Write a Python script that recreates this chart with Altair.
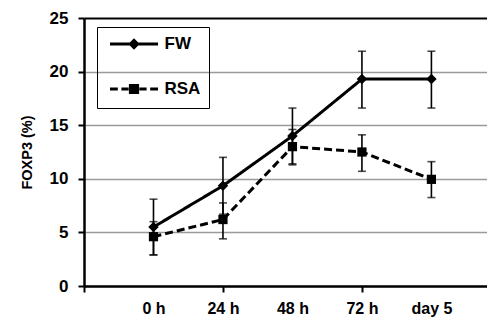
import altair as alt
import pandas as pd

# categories / tick labels
categories = ["0 h", "24 h", "48 h", "72 h", "day 5"]
positions = [0, 1, 2, 3, 4]

# FW series
fw_mean = [5.5, 9.35, 14.0, 19.3, 19.3]
fw_hi = [8.1, 12.0, 16.6, 21.9, 21.9]
fw_lo = [2.9, 6.7, 11.4, 16.6, 16.6]

# RSA series
rsa_mean = [4.6, 6.2, 13.0, 12.5, 9.95]
rsa_hi = [6.0, 7.75, 14.6, 14.1, 11.6]
rsa_lo = [2.9, 4.4, 11.3, 10.7, 8.25]

series_names = ["FW", "RSA"]

rows = []
for i, p in enumerate(positions):
    rows.append({"series": "FW", "s2": "FW", "x": p, "cat": categories[i], "mean": fw_mean[i], "hi": fw_hi[i], "lo": fw_lo[i]})
for i, p in enumerate(positions):
    rows.append({"series": "RSA", "s2": "RSA", "x": p, "cat": categories[i], "mean": rsa_mean[i], "hi": rsa_hi[i], "lo": rsa_lo[i]})
df = pd.DataFrame(rows)

label_js = "[" + ",".join("'" + c + "'" for c in categories) + "]"
Y_TITLE = "FOXP3 (%)"

x_enc = alt.X(
    "x:Q",
    scale=alt.Scale(domain=[-1, 4.8], nice=False, zero=False),
    axis=alt.Axis(
        values=[-1, 0, 1, 2, 3, 4],
        labelExpr=label_js + "[datum.value] || ''",
        title=None,
        grid=False,
        domainColor="black",
        domainWidth=2.5,
        tickSize=6,
        tickWidth=2,
        tickColor={"condition": {"test": "datum.value % 2 == 0", "value": "transparent"}, "value": "black"},
        labelFont="Liberation Sans",
        labelFontWeight="bold",
        labelFontSize=16,
        labelColor="black",
        labelPadding=8,
    ),
)

y_enc = alt.Y(
    "mean:Q",
    title=Y_TITLE,
    scale=alt.Scale(domain=[0, 25], nice=False),
    axis=alt.Axis(
        values=[0, 5, 10, 15, 20, 25],
        titleFont="Liberation Sans",
        titleFontWeight="bold",
        titleFontSize=14.5,
        titleColor="black",
        titlePadding=15,
        grid=True,
        gridColor={"condition": {"test": "datum.value == 25", "value": "black"}, "value": "#9a9a9a"},
        gridWidth={"condition": {"test": "datum.value == 25", "value": 2}, "value": 1.5},
        domainColor="black",
        domainWidth=2.5,
        tickSize=6,
        tickWidth=2,
        tickColor="black",
        labelFont="Liberation Sans",
        labelFontWeight="bold",
        labelFontSize=17,
        labelColor="black",
        labelPadding=10,
    ),
)

base = alt.Chart(df)

errbars = base.mark_errorbar(
    ticks={"size": 8, "thickness": 1.6, "color": "black"},
    rule={"strokeWidth": 1.6, "color": "black"},
).encode(
    x=alt.X("x:Q"),
    y=alt.Y("lo:Q", title=Y_TITLE),
    y2=alt.Y2("hi:Q"),
    detail="series:N",
)

lines = base.mark_line(strokeWidth=3, color="black").encode(
    x=x_enc,
    y=y_enc,
    strokeDash=alt.StrokeDash(
        "series:N",
        scale=alt.Scale(domain=series_names, range=[[1, 0], [8, 4]]),
        legend=None,
    ),
)

fw_pts = base.transform_filter("datum.series == 'FW'").mark_point(
    shape="diamond", filled=True, color="black", size=110, opacity=1
).encode(x="x:Q", y=alt.Y("mean:Q", title=Y_TITLE))

rsa_pts = base.transform_filter("datum.series == 'RSA'").mark_point(
    shape="square", filled=True, color="black", size=85, opacity=1
).encode(x="x:Q", y=alt.Y("mean:Q", title=Y_TITLE))

fw_path = "M-4,0L4,0M-0.6,0L0,-0.6L0.6,0L0,0.6Z"
rsa_path = "M-4,0L-2.7,0M-2.1,0L-0.9,0M0.9,0L2.1,0M2.7,0L4,0M-0.6,-0.6L0.6,-0.6L0.6,0.6L-0.6,0.6Z"

# invisible driver for the legend (marks are clipped away outside the plot)
legend_layer = base.mark_point(
    filled=True, clip=True, opacity=1
).encode(
    x="x:Q",
    y=alt.value(-2000),
    shape=alt.Shape(
        "series:N",
        scale=alt.Scale(domain=series_names, range=[fw_path, rsa_path]),
        legend=alt.Legend(
            title=None,
            orient="none",
            legendX=13,
            legendY=9,
            strokeColor="black",
            padding=8.5,
            rowPadding=24,
            symbolSize=144,
            symbolStrokeWidth=3,
            symbolStrokeColor="black",
            symbolFillColor="black",
            symbolOpacity=1,
            symbolOffset=20,
            labelOffset=22,
            labelFont="Liberation Sans",
            labelFontWeight="bold",
            labelFontSize=17,
            labelColor="black",
        ),
    ),
    color=alt.Color(
        "s2:N",
        scale=alt.Scale(domain=series_names, range=["black", "black"]),
        legend=alt.Legend(orient="bottom-right"),
    ),
)

chart = alt.layer(errbars, lines, fw_pts, rsa_pts, legend_layer).properties(
    width=403,
    height=268,
    padding={"left": 76, "top": 10, "right": 0, "bottom": 31},
    autosize="none",
).configure_view(stroke=None)

chart.save("out.html", embed_options={"renderer": "svg", "actions": False})
